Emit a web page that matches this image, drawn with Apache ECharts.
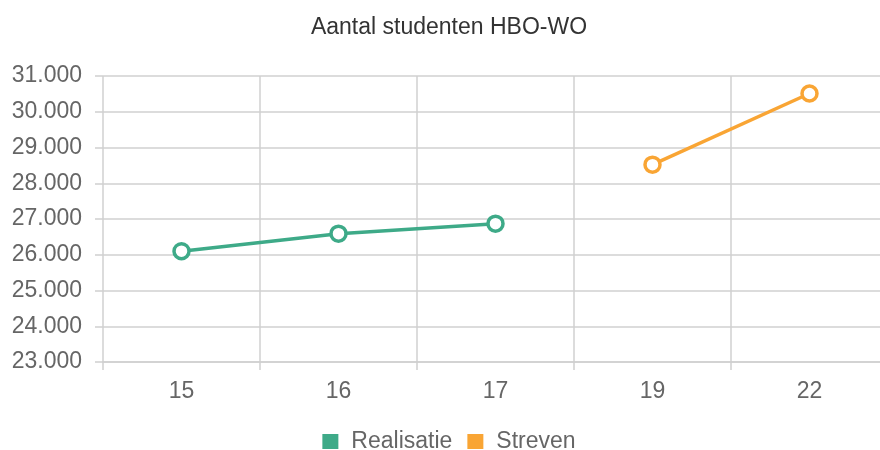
<!DOCTYPE html>
<html>
<head>
<meta charset="utf-8">
<script src="https://cdn.jsdelivr.net/npm/echarts@6/dist/echarts.min.js"></script>
<style>
    html, body { margin: 0; padding: 0; background: #fff; width: 880px; height: 450px; overflow: hidden; }
    /* de grafiek is breder dan het venster, rechts afgesneden zoals het origineel */
    #chart { width: 898px; height: 450px; }
</style>
</head>
<body>
<div id="chart"></div>
<script>
// gegevens
var categories = ['15', '16', '17', '19', '22'];
var realisatie = [26100, 26590, 26870, null, null];
var streven = [null, null, null, 28520, 30510];
var seriesNames = ['Realisatie', 'Streven'];
var colors = ['#3eaa88', '#f9a534'];

var fontFamily = 'Liberation Sans, Arial, sans-serif';

// 31000 -> "31.000"
function dutchNumber(value) {
    return String(value).replace(/\B(?=(\d{3})+(?!\d))/g, '.');
}

function lineSeries(name, data, color) {
    return {
        name: name,
        type: 'line',
        data: data,
        symbol: 'circle',
        symbolSize: 15,
        lineStyle: { width: 3.5, color: color },
        itemStyle: { color: '#fff', borderColor: color, borderWidth: 3.5 }
    };
}

var chart = echarts.init(document.getElementById('chart'));

var option = {
    animation: false,
    color: colors,
    title: {
        text: 'Aantal studenten HBO-WO',
        left: 'center',
        top: 11,
        textStyle: {
            fontFamily: fontFamily,
            fontSize: 23,
            fontWeight: 'normal',
            color: '#333'
        }
    },
    legend: {
        left: 'center',
        top: 425,
        itemWidth: 16,
        itemHeight: 15,
        itemGap: 15,
        data: [
            { name: seriesNames[0], icon: 'rect', itemStyle: { color: colors[0], borderWidth: 0 } },
            { name: seriesNames[1], icon: 'rect', itemStyle: { color: colors[1], borderWidth: 0 } }
        ],
        textStyle: {
            fontFamily: fontFamily,
            fontSize: 23,
            color: '#666',
            padding: [0, 0, 0, 8]
        }
    },
    grid: {
        left: 103,
        top: 76,
        right: 10,
        height: 286,
        containLabel: false
    },
    xAxis: {
        type: 'category',
        data: categories,
        boundaryGap: true,
        axisLine: { lineStyle: { color: '#d0d0d0', width: 1.5 } },
        axisTick: { show: true, length: 8, lineStyle: { color: '#d0d0d0', width: 1.5 } },
        splitLine: { show: true, lineStyle: { color: '#d0d0d0', width: 1.5 } },
        axisLabel: {
            margin: 18,
            fontFamily: fontFamily,
            fontSize: 23,
            color: '#666'
        }
    },
    yAxis: {
        type: 'value',
        min: 23000,
        max: 31000,
        interval: 1000,
        axisLine: { show: false },
        axisTick: { show: true, length: 8, lineStyle: { color: '#d0d0d0', width: 1.5 } },
        splitLine: { show: true, lineStyle: { color: '#d0d0d0', width: 1.5 } },
        axisLabel: {
            margin: 21,
            fontFamily: fontFamily,
            fontSize: 23,
            color: '#666',
            formatter: dutchNumber
        }
    },
    series: [
        lineSeries(seriesNames[0], realisatie, colors[0]),
        lineSeries(seriesNames[1], streven, colors[1])
    ]
};

chart.setOption(option);
</script>
</body>
</html>
